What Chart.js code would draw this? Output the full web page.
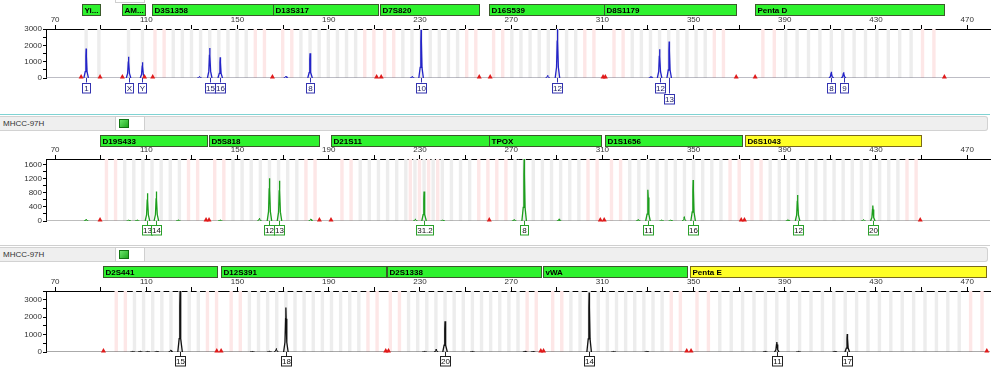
<!DOCTYPE html>
<html><head><meta charset="utf-8">
<script src="https://cdn.jsdelivr.net/npm/chart.js@4/dist/chart.umd.min.js"></script>
<style>
body{margin:0;background:#fff;font-family:"Liberation Sans",Arial,sans-serif;}
#wrap{position:relative;width:1000px;height:367px;overflow:hidden;background:#fff;}
canvas{position:absolute;left:0;}
.hdr{position:absolute;left:0;width:988px;height:15px;background:#efefef;border:1px solid #d2d2d2;border-left:none;border-radius:0 3px 3px 0;box-sizing:border-box;font-size:8px;color:#333;line-height:13px;padding-left:3px;}
.tab{position:absolute;left:115px;width:30px;height:15px;background:#fff;border:1px solid #cfcfcf;box-sizing:border-box;}
.sq{position:absolute;left:3px;top:2px;width:10px;height:9px;background:linear-gradient(135deg,#6be66b,#1fa81f);border:1px solid #137313;box-sizing:border-box;}
.teal{position:absolute;left:0;width:990px;height:1px;background:#7fd3d3;}
.gline{position:absolute;left:0;width:990px;height:1px;background:#cfcfcf;}
</style></head>
<body><div id="wrap">
<div class="tab" style="top:-12px"></div>
<canvas id="c1" width="1000" height="110" style="top:0"></canvas>
<div class="teal" style="top:114px"></div>
<div class="hdr" style="top:116px">MHCC-97H</div>
<div class="tab" style="top:116px"><div class="sq"></div></div>
<canvas id="c2" width="1000" height="114" style="top:131px"></canvas>
<div class="gline" style="top:245px"></div>
<div class="hdr" style="top:247px">MHCC-97H</div>
<div class="tab" style="top:247px"><div class="sq"></div></div>
<canvas id="c3" width="1000" height="104" style="top:263px"></canvas>
</div>
<script>
const FONT = '"Liberation Sans", Arial, sans-serif';
const XMIN = 66, XMAX = 480;
const xTickValues = [70,90,110,130,150,170,190,210,230,250,270,290,310,330,350,370,390,410,430,450,470];
const xTickLabelValues = [70,110,150,190,230,270,310,350,390,430,470];

// ---------- Panel 1 (blue dye) ----------
const p1LocusNames = ['Yi...','AM...','D3S1358','D13S317','D7S820','D16S539','D8S1179','Penta D'];
const p1LocusStart = [81.7,99.5,112.7,165.6,212.5,260.4,310.5,377];
const p1LocusEnd   = [89.7,109.2,165.6,211.4,256,310.5,368.7,460];
const p1LocusKind  = ['g','g','g','g','g','g','g','g'];
const p1PeakPos    = [83.6,102.2,108.3,137.8,142.4,181.8,230.5,290.3,335.1,339.3,410.4,415.8];
const p1PeakHeight = [1800,1300,960,1840,1270,1515,2950,3000,1760,2230,380,350];
const p1Alleles    = ['1','X','Y','15','16','8','10','12','12','13','8','9'];
const p1LabelRow   = [0,0,0,0,0,0,0,0,0,1,0,0];
const p1MinorPos    = [133.3,171.2,226.6,286,331.3];
const p1MinorHeight = [100,120,90,160,100];
const p1Marks = [81.4,89.7,99.5,109.2,112.8,165.3,211,213,256,260.8,310.3,311.3,368.7,377,460];
const p1YTicks = [0,500,1000,1500,2000,2500,3000];
const p1YLabels = [0,1000,2000,3000];
const p1BinStart = [83.6,102.2,113.8,169.8,214.5,262.3,315.1,380.4];
const p1BinStep  = [5.6,6.1,4,4,4,4,4,5];
const p1BinCount = [2,2,13,11,11,12,13,16];
const p1BinKind  = ['g','g','e','e','e','e','e','e'];

// ---------- Panel 2 (green dye) ----------
const p2LocusNames = ['D19S433','D5S818','D21S11','TPOX','D1S1656','D6S1043'];
const p2LocusStart = [89.7,137.5,191,260.4,311,372.6];
const p2LocusEnd   = [136.5,185.9,260.4,309.3,371.4,449.7];
const p2LocusKind  = ['g','g','g','g','g','y'];
const p2PeakPos    = [110.5,114.4,164,168.4,231.8,275.7,330,349.8,395.6,428.6];
const p2PeakHeight = [790,840,1220,1150,840,1770,890,1170,745,440];
const p2Alleles    = ['13','14','12','13','31.2','8','11','16','12','20'];
const p2LabelRow   = [0,0,0,0,0,0,0,0,0,0];
const p2MinorPos    = [83.6,102.3,106,124,142.4,159.6,182.1,228,240,271.3,291,325.7,336,340,345.9,391.4,424.5];
const p2MinorHeight = [50,30,30,30,30,80,60,60,30,40,60,40,30,30,120,40,40];
const p2Marks = [89.7,136.2,137.5,185.9,191,260.4,309.1,310.8,370.9,372.3,449.4];
const p2YTicks = [0,200,400,600,800,1000,1200,1400,1600];
const p2YLabels = [0,400,800,1200,1600];
const p2BinStart = [92.5,140,195.8,225.8,263.7,314,375.6];
const p2BinStep  = [4,4,4,4,4,4,4];
const p2BinCount = [11,12,17,4,12,15,19];
const p2BinKind  = ['e','e','e','p','e','e','e'];

// ---------- Panel 3 (black dye) ----------
const p3LocusNames = ['D2S441','D12S391','D2S1338','vWA','Penta E'];
const p3LocusStart = [91.2,142.8,215.5,283.9,348.5];
const p3LocusEnd   = [140.9,215,283,347,478.2];
const p3LocusKind  = ['g','g','g','g','y'];
const p3PeakPos    = [124.8,171.2,241,304.2,386.5,417.4];
const p3PeakHeight = [3500,2550,1765,3410,575,1035];
const p3Alleles    = ['15','18','20','14','11','17'];
const p3LabelRow   = [0,0,0,0,0,0];
const p3MinorPos    = [104,107.3,110.6,114.6,120.7,156.5,164,167,232,237.1,253,276.1,279.6,314.9,329.5,381.4,396,412];
const p3MinorHeight = [40,50,40,40,120,40,50,200,40,160,40,60,40,40,40,40,40,40];
const p3Marks = [91.2,140.9,142.8,215,216.2,283,284.2,347,348.9,478.6];
const p3YTicks = [0,500,1000,1500,2000,2500,3000,3500];
const p3YLabels = [0,1000,2000,3000];
const p3BinStart = [96.8,147.2,217,288.2,351.5];
const p3BinStep  = [4,4,4,4,5];
const p3BinCount = [12,17,17,15,26];
const p3BinKind  = ['e','e','e','e','e'];

const PROFILE = [[-1.0,0],[-0.4,0.22],[-0.12,0.75],[0,1],[0.12,0.75],[0.4,0.22],[1.0,0]];
function buildTrace(pos, hgt){
  const pts = [];
  pos.forEach((p,i)=>{
    PROFILE.forEach(([dx,f])=>pts.push({x:p+dx, y:hgt[i]*f}));
    pts.push({x:p+1.1, y:null});
  });
  return pts;
}

function panelPlugin(P){
  return {
    id:'panel'+P.id,
    beforeDatasetsDraw(chart){
      const {ctx, chartArea:a, scales:{x}} = chart;
      ctx.save();
      P.binStart.forEach((s,i)=>{
        for(let k=0;k<P.binCount[i];k++){
          const v = s + k*P.binStep[i];
          const kind = P.binKind[i];
          const pink = kind==='p' || (kind==='e' && (k<2 || k>=P.binCount[i]-2));
          ctx.fillStyle = pink ? '#fde7e7' : '#ededed';
          const px = x.getPixelForValue(v);
          ctx.fillRect(px-1.7, a.top, 3.4, a.bottom-a.top);
        }
      });
      ctx.restore();
    },
    afterDatasetsDraw(chart){
      const {ctx, scales:{x,y}} = chart;
      const base = y.getPixelForValue(0);
      ctx.save();
      ctx.fillStyle = '#e01a1a';
      P.marks.forEach(v=>{
        const px = x.getPixelForValue(v);
        ctx.beginPath();
        ctx.moveTo(px-2.5, base+0.5);
        ctx.lineTo(px+2.5, base+0.5);
        ctx.lineTo(px, base-4);
        ctx.closePath();
        ctx.fill();
      });
      ctx.restore();
    },
    afterDraw(chart){
      const {ctx, chartArea:a, scales:{x,y}} = chart;
      ctx.save();
      P.locusNames.forEach((n,i)=>{
        const x1 = Math.round(x.getPixelForValue(P.locusStart[i]))+0.5;
        const x2 = Math.round(x.getPixelForValue(P.locusEnd[i]))+0.5;
        const yel = P.locusKind[i]==='y';
        ctx.fillStyle = yel ? '#ffff26' : '#2ef22e';
        ctx.fillRect(x1, P.barTop+0.5, x2-x1, P.barBottom-P.barTop);
        ctx.strokeStyle = yel ? '#7a6a1a' : '#3b5a2b';
        ctx.lineWidth = 1;
        ctx.strokeRect(x1, P.barTop+0.5, x2-x1, P.barBottom-P.barTop);
        ctx.save();
        ctx.beginPath(); ctx.rect(x1, P.barTop, x2-x1, P.barBottom-P.barTop+1); ctx.clip();
        ctx.fillStyle = '#000';
        ctx.font = 'bold 8px '+FONT;
        ctx.textBaseline = 'middle';
        ctx.fillText(n, x1+2, (P.barTop+P.barBottom)/2+1);
        ctx.restore();
      });
      const base = y.getPixelForValue(0);
      ctx.font = '8px '+FONT;
      ctx.textAlign = 'center';
      ctx.textBaseline = 'middle';
      P.alleles.forEach((t,i)=>{
        const px = x.getPixelForValue(P.peakPos[i]);
        const top = P.labelTop + P.labelRow[i]*P.rowStep;
        const w = Math.round(Math.max(ctx.measureText(t).width+1.5, 8));
        const h = 9.5;
        const bx = Math.round(px - w/2)+0.5;
        ctx.strokeStyle = P.labelColor;
        ctx.lineWidth = 1;
        ctx.beginPath();
        ctx.moveTo(Math.round(px)+0.5, base);
        ctx.lineTo(Math.round(px)+0.5, top);
        ctx.stroke();
        ctx.fillStyle = '#fff';
        ctx.fillRect(bx, Math.round(top)+0.5, w, h);
        ctx.strokeRect(bx, Math.round(top)+0.5, w, h);
        ctx.fillStyle = P.labelText;
        ctx.fillText(t, bx+w/2, Math.round(top)+0.5+h/2+0.5);
      });
      ctx.restore();
    }
  };
}

function makeChart(id, P){
  const H = document.getElementById(id).height;
  return new Chart(document.getElementById(id), {
    type:'line',
    data:{datasets:[
      {data:[{x:XMIN,y:0},{x:XMAX,y:0}], borderColor:P.baseColor, borderWidth:1, pointRadius:0, order:3},
      {data:buildTrace(P.minorPos,P.minorHeight), borderColor:P.color, borderWidth:1, pointRadius:0, spanGaps:false, order:2},
      {data:buildTrace(P.peakPos,P.peakHeight), borderColor:P.color, borderWidth:1.3, pointRadius:0, spanGaps:false, order:1}
    ]},
    options:{
      responsive:false, animation:false, devicePixelRatio:1,
      parsing:false, normalized:true,
      layout:{padding:{left:0,right:10,top:0,bottom:H-P.areaBottom}},
      plugins:{legend:{display:false},tooltip:{enabled:false}},
      scales:{
        x:{type:'linear',position:'top',min:XMIN,max:XMAX,
          afterBuildTicks:s=>{s.ticks=xTickValues.map(v=>({value:v}));},
          afterFit:s=>{s.height=P.areaTop;},
          ticks:{autoSkip:false,maxRotation:0,padding:0,color:'#333',font:{size:8,family:FONT},
            callback:v=>xTickLabelValues.includes(v)?String(v):''},
          grid:{drawOnChartArea:false,tickLength:4,color:'#000'},
          border:{color:'#000',width:1}},
        y:{type:'linear',min:0,max:P.yMax,
          afterBuildTicks:s=>{s.ticks=P.yTicks.map(v=>({value:v}));},
          afterFit:s=>{s.width=46;},
          ticks:{autoSkip:false,padding:1,color:'#333',font:{size:8,family:FONT},
            callback:v=>P.yLabels.includes(v)?String(v):''},
          grid:{drawOnChartArea:false,tickLength:3,color:'#000'},
          border:{color:'#000',width:1}}
      }
    },
    plugins:[panelPlugin(P)]
  });
}

makeChart('c1',{id:1,color:'#2323c8',baseColor:'#7a7a8a',labelColor:'#3333b0',labelText:'#1a1a60',
  areaTop:29,areaBottom:78,barTop:4,barBottom:15,labelTop:82.5,rowStep:11,yMax:3000,
  yTicks:p1YTicks,yLabels:p1YLabels,
  locusNames:p1LocusNames,locusStart:p1LocusStart,locusEnd:p1LocusEnd,locusKind:p1LocusKind,
  peakPos:p1PeakPos,peakHeight:p1PeakHeight,alleles:p1Alleles,labelRow:p1LabelRow,
  minorPos:p1MinorPos,minorHeight:p1MinorHeight,marks:p1Marks,
  binStart:p1BinStart,binStep:p1BinStep,binCount:p1BinCount,binKind:p1BinKind});

makeChart('c2',{id:2,color:'#1c9e1c',baseColor:'#7a7a7a',labelColor:'#2aa02a',labelText:'#111',
  areaTop:28,areaBottom:90,barTop:4,barBottom:15,labelTop:94,rowStep:11,yMax:1770,
  yTicks:p2YTicks,yLabels:p2YLabels,
  locusNames:p2LocusNames,locusStart:p2LocusStart,locusEnd:p2LocusEnd,locusKind:p2LocusKind,
  peakPos:p2PeakPos,peakHeight:p2PeakHeight,alleles:p2Alleles,labelRow:p2LabelRow,
  minorPos:p2MinorPos,minorHeight:p2MinorHeight,marks:p2Marks,
  binStart:p2BinStart,binStep:p2BinStep,binCount:p2BinCount,binKind:p2BinKind});

makeChart('c3',{id:3,color:'#111',baseColor:'#555',labelColor:'#222',labelText:'#111',
  areaTop:28,areaBottom:89,barTop:3,barBottom:14,labelTop:93,rowStep:11,yMax:3500,
  yTicks:p3YTicks,yLabels:p3YLabels,
  locusNames:p3LocusNames,locusStart:p3LocusStart,locusEnd:p3LocusEnd,locusKind:p3LocusKind,
  peakPos:p3PeakPos,peakHeight:p3PeakHeight,alleles:p3Alleles,labelRow:p3LabelRow,
  minorPos:p3MinorPos,minorHeight:p3MinorHeight,marks:p3Marks,
  binStart:p3BinStart,binStep:p3BinStep,binCount:p3BinCount,binKind:p3BinKind});
</script>
</body></html>
